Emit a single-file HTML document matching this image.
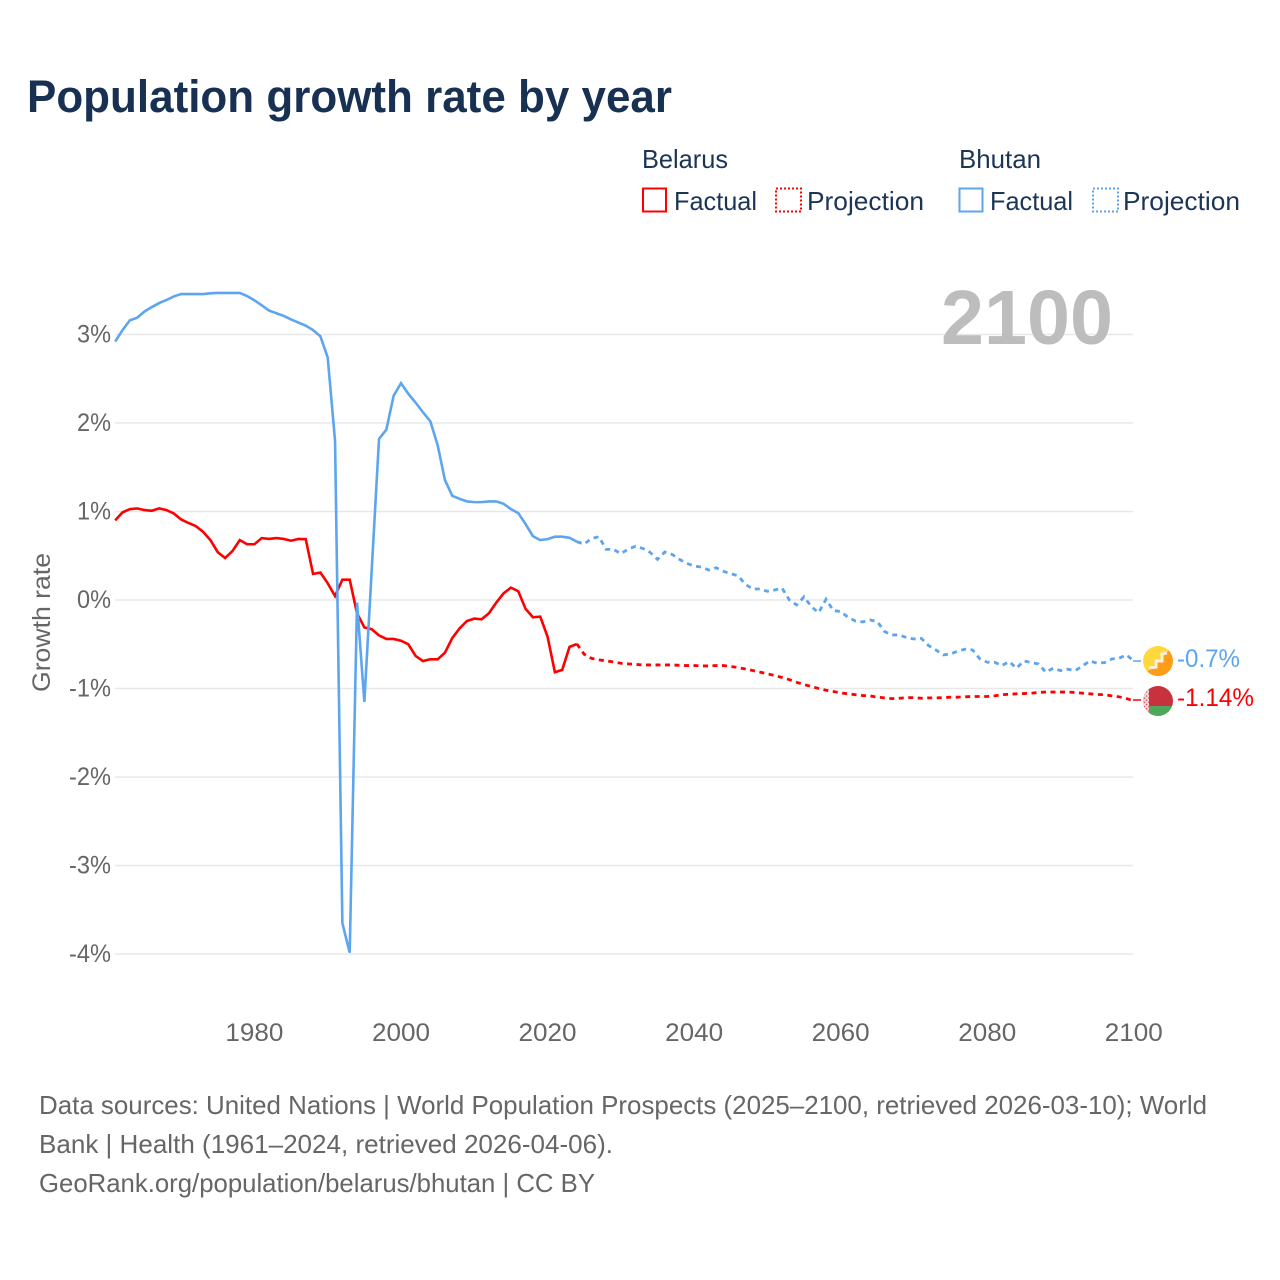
<!DOCTYPE html>
<html lang="en">
<head>
<meta charset="utf-8">
<title>Population growth rate by year</title>
<style>
html,body{margin:0;padding:0;background:#fff;}
svg{display:block;font-family:"Liberation Sans",sans-serif;}
</style>
</head>
<body>
<svg id="chart" width="1280" height="1280" viewBox="0 0 1280 1280" xmlns="http://www.w3.org/2000/svg">
  <defs>
    <clipPath id="bt-clip"><circle cx="1158" cy="661" r="15"/></clipPath>
    <clipPath id="by-clip"><circle cx="1158" cy="701" r="15"/></clipPath>
    <pattern id="by-orn" width="3" height="3" patternUnits="userSpaceOnUse" patternTransform="rotate(45 1146 700)">
      <rect width="3" height="3" fill="#f6dcdc"/>
      <rect width="1.4" height="1.4" fill="#d4505a"/>
    </pattern>
  </defs>
  <rect width="1280" height="1280" fill="#fff"/>

  <text x="27" y="112" font-size="45" font-weight="700" fill="#183153" textLength="645" lengthAdjust="spacingAndGlyphs">Population growth rate by year</text>

  <g font-size="26" fill="#1c3556">
    <text x="642" y="168" textLength="86" lengthAdjust="spacingAndGlyphs">Belarus</text>
    <text x="959" y="168" textLength="82" lengthAdjust="spacingAndGlyphs">Bhutan</text>
    <rect x="643" y="188.5" width="23" height="23" fill="none" stroke="#ff0000" stroke-width="2"/>
    <text x="674" y="210" textLength="83" lengthAdjust="spacingAndGlyphs">Factual</text>
    <rect x="776" y="188.5" width="25" height="23" fill="none" stroke="#ff0000" stroke-width="2" stroke-dasharray="2 2"/>
    <text x="807" y="210" textLength="117" lengthAdjust="spacingAndGlyphs">Projection</text>
    <rect x="959.5" y="188.5" width="23" height="23" fill="none" stroke="#5da5ee" stroke-width="2"/>
    <text x="990" y="210" textLength="83" lengthAdjust="spacingAndGlyphs">Factual</text>
    <rect x="1093" y="188.5" width="25" height="23" fill="none" stroke="#5da5ee" stroke-width="2" stroke-dasharray="2 2"/>
    <text x="1123" y="210" textLength="117" lengthAdjust="spacingAndGlyphs">Projection</text>
  </g>

  <g id="grid"></g>
  <g id="yticks"></g>
  <g id="xticks"></g>

  <text transform="translate(50,692) rotate(-90)" font-size="25" fill="#666" textLength="139" lengthAdjust="spacingAndGlyphs">Growth rate</text>

  <text x="941" y="344" font-size="77" font-weight="700" fill="#bdbdbd" textLength="172" lengthAdjust="spacingAndGlyphs">2100</text>

  <g id="series"></g>

  <g>
    <line x1="1133" y1="661" x2="1141" y2="661" stroke="#5da5ee" stroke-width="1.5"/>
    <g clip-path="url(#bt-clip)">
      <rect x="1143" y="646" width="30" height="30" fill="#ffd83d"/>
      <polygon points="1173,646 1173,676 1143,676" fill="#ff9d1a"/>
      <polyline points="1149,668 1156,667 1156,661 1162,661 1162,654 1167,653" fill="none" stroke="#f7f0e2" stroke-width="3"/>
    </g>
    <text x="1177" y="667" font-size="25" fill="#5da5ee" textLength="63" lengthAdjust="spacingAndGlyphs">-0.7%</text>
  </g>
  <g>
    <line x1="1133" y1="700" x2="1141" y2="700" stroke="#ff0000" stroke-width="1.5"/>
    <g clip-path="url(#by-clip)">
      <rect x="1143" y="686" width="30" height="20" fill="#c8313e"/>
      <rect x="1143" y="706" width="30" height="10" fill="#4ea75a"/>
      <rect x="1143" y="686" width="6" height="30" fill="url(#by-orn)"/>
    </g>
    <text x="1177" y="706" font-size="25" fill="#ff0000" textLength="77" lengthAdjust="spacingAndGlyphs">-1.14%</text>
  </g>

  <g font-size="26" fill="#666">
    <text x="39" y="1114" textLength="1168" lengthAdjust="spacingAndGlyphs">Data sources: United Nations | World Population Prospects (2025–2100, retrieved 2026-03-10); World</text>
    <text x="39" y="1153" textLength="574" lengthAdjust="spacingAndGlyphs">Bank | Health (1961–2024, retrieved 2026-04-06).</text>
    <text x="39" y="1192" textLength="556" lengthAdjust="spacingAndGlyphs">GeoRank.org/population/belarus/bhutan | CC BY</text>
  </g>
</svg>
<script>
const yTickValues = [3, 2, 1, 0, -1, -2, -3, -4];
const xTickYears = [1980, 2000, 2020, 2040, 2060, 2080, 2100];
const factualStartYear = 1961;
const projectionStartYear = 2024;

const bhutanFactual = [
  2.92, 3.05, 3.16, 3.19, 3.26, 3.31, 3.355, 3.39, 3.43, 3.457,
  3.457, 3.457, 3.457, 3.465, 3.47, 3.47, 3.47, 3.47, 3.435, 3.386,
  3.33, 3.27, 3.24, 3.21, 3.17, 3.135, 3.10, 3.05, 2.98, 2.74,
  1.80, -3.65, -3.985, -0.03, -1.15, 0.33, 1.82, 1.925, 2.31, 2.45,
  2.33, 2.23, 2.12, 2.02, 1.75, 1.355, 1.177, 1.143, 1.114, 1.106,
  1.106, 1.114, 1.114, 1.087, 1.027, 0.982, 0.858, 0.722, 0.677, 0.688,
  0.715, 0.715, 0.703, 0.658
];
const bhutanProjection = [
  0.658, 0.632, 0.695, 0.715, 0.572, 0.572, 0.523, 0.575, 0.606, 0.583,
  0.538, 0.459, 0.542, 0.515, 0.459, 0.414, 0.384, 0.372, 0.339, 0.365,
  0.324, 0.297, 0.274, 0.177, 0.124, 0.124, 0.098, 0.113, 0.135, 0.0,
  -0.056, 0.037, -0.076, -0.143, 0.008, -0.12, -0.13, -0.195, -0.237, -0.248,
  -0.226, -0.245, -0.357, -0.395, -0.395, -0.425, -0.44, -0.433, -0.515, -0.564,
  -0.62, -0.61, -0.576, -0.556, -0.564, -0.666, -0.703, -0.703, -0.741, -0.696,
  -0.771, -0.688, -0.707, -0.722, -0.816, -0.771, -0.798, -0.782, -0.798, -0.745,
  -0.688, -0.715, -0.707, -0.666, -0.658, -0.62, -0.69
];
const belarusFactual = [
  0.90, 0.99, 1.027, 1.035, 1.016, 1.008, 1.035, 1.016, 0.978, 0.91,
  0.87, 0.835, 0.77, 0.677, 0.54, 0.474, 0.553, 0.677, 0.63, 0.63,
  0.70, 0.69, 0.70, 0.69, 0.67, 0.69, 0.688, 0.295, 0.31, 0.19,
  0.045, 0.23, 0.23, -0.15, -0.31, -0.33, -0.40, -0.44, -0.44, -0.46,
  -0.50, -0.632, -0.69, -0.67, -0.67, -0.595, -0.43, -0.32, -0.237, -0.21,
  -0.218, -0.15, -0.03, 0.075, 0.14, 0.10, -0.10, -0.195, -0.188, -0.414,
  -0.816, -0.79, -0.53, -0.497
];
const belarusProjection = [
  -0.497, -0.613, -0.66, -0.677, -0.688, -0.70, -0.715, -0.722, -0.727, -0.734,
  -0.734, -0.734, -0.734, -0.734, -0.738, -0.741, -0.741, -0.745, -0.745, -0.741,
  -0.741, -0.752, -0.763, -0.78, -0.797, -0.815, -0.834, -0.853, -0.876, -0.90,
  -0.93, -0.955, -0.978, -1.0, -1.02, -1.034, -1.05, -1.06, -1.07, -1.08,
  -1.083, -1.098, -1.106, -1.114, -1.11, -1.103, -1.103, -1.11, -1.106, -1.106,
  -1.103, -1.098, -1.098, -1.094, -1.09, -1.09, -1.09, -1.083, -1.07, -1.065,
  -1.06, -1.057, -1.053, -1.045, -1.04, -1.04, -1.04, -1.04, -1.045, -1.053,
  -1.06, -1.068, -1.07, -1.083, -1.094, -1.114, -1.14
];

const NS = 'http://www.w3.org/2000/svg';
const xScale = year => 115.2 + (year - 1961) * (1133.8 - 115.2) / (2100 - 1961);
const yScale = value => 600.0 - value * 88.5;

const grid = document.getElementById('grid');
const yticks = document.getElementById('yticks');
const xticks = document.getElementById('xticks');
const series = document.getElementById('series');

yTickValues.forEach(v => {
  const gl = document.createElementNS(NS, 'line');
  
  
  gl.setAttribute('x1', 115);
  gl.setAttribute('x2', 1133);
  gl.setAttribute('y1', yScale(v));
  gl.setAttribute('y2', yScale(v));
  gl.setAttribute('stroke', '#e8e8e8');
  gl.setAttribute('stroke-width', '1.5');
  grid.appendChild(gl);

  const t = document.createElementNS(NS, 'text');
  
  
  t.setAttribute('x', 111);
  t.setAttribute('y', yScale(v) + 8);
  t.setAttribute('text-anchor', 'end');
  t.setAttribute('font-size', '25');
  t.setAttribute('fill', '#666');
  t.setAttribute('textLength', v < 0 ? 42 : 34);
  t.setAttribute('lengthAdjust', 'spacingAndGlyphs');
  t.textContent = v + '%';
  yticks.appendChild(t);
});

xTickYears.forEach(y => {
  const t = document.createElementNS(NS, 'text');
  
  
  t.setAttribute('x', xScale(y));
  t.setAttribute('y', 1041);
  t.setAttribute('text-anchor', 'middle');
  t.setAttribute('font-size', '25');
  t.setAttribute('fill', '#666');
  t.setAttribute('textLength', 58);
  t.setAttribute('lengthAdjust', 'spacingAndGlyphs');
  t.textContent = y;
  xticks.appendChild(t);
});

function linePoints(values, startYear) {
  return values.map((v, i) => xScale(startYear + i).toFixed(2) + ',' + yScale(v).toFixed(2)).join(' ');
}

function addLine(name, values, startYear, color, dashed) {
  const p = document.createElementNS(NS, 'polyline');
  
  
  p.setAttribute('points', linePoints(values, startYear));
  p.setAttribute('fill', 'none');
  p.setAttribute('stroke', color);
  p.setAttribute('stroke-width', dashed ? '2.8' : '2.6');
  p.setAttribute('stroke-linejoin', 'miter');
  p.setAttribute('stroke-miterlimit', '3');
  if (dashed) p.setAttribute('stroke-dasharray', '5 4.5');
  series.appendChild(p);
}

addLine('belarus-factual-line', belarusFactual, factualStartYear, '#ff0000', false);
addLine('belarus-projection-line', belarusProjection, projectionStartYear, '#ff0000', true);
addLine('bhutan-factual-line', bhutanFactual, factualStartYear, '#5da5ee', false);
addLine('bhutan-projection-line', bhutanProjection, projectionStartYear, '#5da5ee', true);
</script>
</body>
</html>
